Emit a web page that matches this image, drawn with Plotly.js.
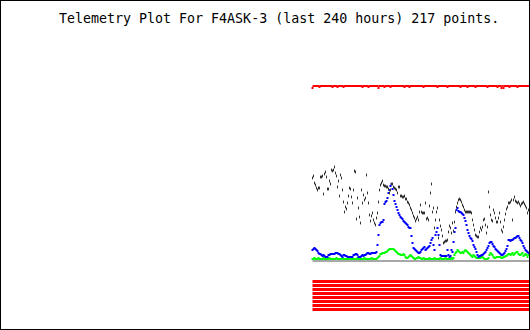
<!DOCTYPE html>
<html>
<head>
<meta charset="utf-8">
<script src="https://cdn.plot.ly/plotly-3.0.1.min.js"></script>
<style>html,body{margin:0;padding:0;background:#fff;}#chart{width:530px;height:330px;}</style>
</head>
<body>
<div id="chart"></div>
<script>
// Telemetry values (arbitrary plot units)
var titleText = "Telemetry Plot For F4ASK-3 (last 240 hours) 217 points.";
var pointCount = 217;
var points = Array.from({length: pointCount}, function (_, i) { return i; });

var redTop = [
 242,244,244,244,244,244,244,243,244,244,
 244,244,244,244,244,244,244,244,244,244,
 243,244,244,244,244,243,244,244,244,244,
 244,243,244,244,244,244,244,244,244,244,
 244,244,244,244,244,244,244,244,244,244,
 243,244,244,244,244,244,243,244,244,244,
 244,244,244,244,244,244,242,244,244,244,
 244,244,243,244,244,244,244,244,243,244,
 244,244,244,244,244,244,244,244,244,244,
 244,244,243,244,244,244,244,243,244,244,
 244,244,244,244,244,244,244,244,244,244,
 244,243,244,244,244,244,244,244,244,244,
 244,244,244,244,244,243,244,244,244,244,
 244,244,244,244,244,243,244,244,244,244,
 244,244,244,244,244,244,244,244,243,244,
 244,244,244,244,244,243,244,244,244,244,
 244,244,244,243,244,244,244,244,244,244,
 244,244,244,244,244,243,244,244,244,244,
 244,244,244,244,244,243,244,244,244,242,
 244,242,244,244,244,244,244,243,244,244,
 244,244,244,244,244,243,244,244,244,244,
 244,244,244,244,244,244,244];

var blackSeries = [
 152,154,147,145,142,140,142,142,153,153,
 154,136,156,158,153,141,141,149,146,160,
 159,160,163,157,154,143,149,134,155,152,
 140,128,118,123,121,127,134,142,141,133,
 127,140,159,158,111,132,122,113,107,140,
 127,135,130,132,155,137,127,115,109,114,
 117,110,107,105,112,117,128,140,145,147,
 149,145,144,144,143,143,141,137,140,146,
 146,143,142,141,140,137,143,143,134,134,
 133,133,134,131,131,128,127,125,122,120,
 117,114,112,109,111,113,110,118,125,118,
 117,117,117,127,111,112,110,124,137,146,
 118,122,102,110,118,122,92,110,104,100,
 94,87,88,89,89,90,98,104,102,97,
 107,99,108,118,123,127,130,131,130,128,
 125,123,120,118,118,118,118,118,118,117,
 110,105,100,95,94,93,93,98,102,100,
 103,110,111,105,97,103,138,123,115,110,
 109,120,117,112,108,108,112,117,108,100,
 98,103,110,116,121,123,127,127,128,130,
 110,130,133,129,128,127,128,126,124,126,
 127,128,126,124,122,117,120];

var blueSeries = [
 80,81,82,81,80,79,77,76,76,75,
 74,75,74,73,73,73,75,75,76,76,
 76,76,76,77,77,77,76,76,75,74,
 73,75,75,74,74,73,73,73,73,73,
 73,75,75,76,76,75,73,73,73,74,
 75,74,75,75,76,77,77,76,76,77,
 77,77,77,77,78,85,95,105,107,108,
 108,110,126,128,129,132,137,140,144,146,
 141,135,129,126,123,120,117,115,113,112,
 111,109,108,107,106,105,103,102,102,94,
 87,82,81,80,79,78,77,77,78,80,
 81,82,83,80,81,82,83,84,87,90,
 92,85,80,95,98,102,95,85,75,74,
 74,74,74,74,74,80,75,73,74,80,
 78,88,98,102,120,122,119,118,118,117,
 116,115,112,109,105,100,97,94,92,91,
 89,85,83,81,78,75,73,74,74,75,
 75,76,77,78,80,82,84,87,88,88,
 86,84,83,81,80,79,78,77,76,75,
 75,76,77,79,81,84,90,90,89,90,
 90,91,92,92,93,94,94,92,90,89,
 87,84,82,80,79,78,77];

var greenSeries = [
 71,71,72,71,71,71,72,71,71,71,
 71,72,71,71,71,71,71,72,71,71,
 71,71,71,71,72,71,71,71,71,71,
 72,71,71,71,71,71,71,72,71,71,
 71,71,71,71,71,72,71,71,71,71,
 71,71,72,71,71,71,71,71,71,72,
 71,71,71,71,71,72,73,74,76,76,
 77,77,77,78,78,79,80,81,81,81,
 81,81,80,79,78,77,76,76,75,75,
 75,76,75,73,72,72,73,74,75,74,
 73,72,71,71,72,72,73,72,72,71,
 71,72,71,71,71,71,71,72,71,71,
 71,71,72,71,71,71,71,71,72,71,
 71,71,71,72,71,71,71,71,71,72,
 71,72,75,77,78,80,79,78,77,77,
 78,77,79,80,79,78,77,76,75,74,
 73,75,74,73,72,72,72,72,72,73,
 73,72,71,71,71,71,72,75,77,76,
 75,73,72,72,73,73,73,73,73,72,
 72,73,73,74,74,75,76,76,75,76,
 77,75,76,77,78,78,76,75,75,76,
 77,74,75,76,75,73,75];

var grayLevel = 69;
var bitLevels = [48.5, 44.5, 40.5, 36.5, 32.5, 28.5, 24.5, 20.5];

var first = points[0], last = points[points.length - 1];
var traces = [];

bitLevels.forEach(function (lv) {
  traces.push({x: [first, last + 0.5], y: [lv, lv], mode: 'lines', type: 'scatter',
    line: {color: '#ff0000', width: 3}, hoverinfo: 'skip'});
});
traces.push({x: [first, last + 0.5], y: [grayLevel, grayLevel], mode: 'lines', type: 'scatter',
  line: {color: '#a8a8a8', width: 2}, hoverinfo: 'skip'});
traces.push({x: points, y: greenSeries, mode: 'markers', type: 'scatter',
  marker: {symbol: 'square', size: 2, color: '#00ff00', line: {width: 0}}});
traces.push({x: points, y: blueSeries, mode: 'markers', type: 'scatter',
  marker: {symbol: 'square', size: 2, color: '#0000ff', line: {width: 0}}});
traces.push({x: points, y: blackSeries, mode: 'markers', type: 'scatter',
  marker: {symbol: 'line-ns', size: 2, color: '#303030', line: {width: 1, color: '#303030'}}});
traces.push({x: points, y: redTop, mode: 'markers', type: 'scatter',
  marker: {symbol: 'square', size: 2, color: '#ff0000', line: {width: 0}}});

var hidden = {visible: false, showgrid: false, zeroline: false, showticklabels: false, fixedrange: true};
var layout = {
  width: 530, height: 330,
  margin: {l: 0, r: 0, t: 0, b: 0, pad: 0},
  paper_bgcolor: '#ffffff', plot_bgcolor: '#ffffff',
  showlegend: false,
  xaxis: Object.assign({range: [-312.5, 217.5]}, hidden),
  yaxis: Object.assign({range: [0, 330]}, hidden),
  annotations: [{
    text: titleText, xref: 'paper', yref: 'paper',
    x: 279 / 530, y: 1 - 18 / 330, xanchor: 'center', yanchor: 'middle',
    showarrow: false,
    font: {family: 'DejaVu Sans Mono, monospace', size: 13.3, color: '#000000'}
  }],
  shapes: [{
    type: 'rect', xref: 'paper', yref: 'paper', x0: 0, x1: 1, y0: 0, y1: 1,
    line: {color: '#000000', width: 2}, fillcolor: 'rgba(0,0,0,0)'
  }]
};
Plotly.newPlot('chart', traces, layout, {staticPlot: true, displayModeBar: false});
</script>
</body>
</html>
